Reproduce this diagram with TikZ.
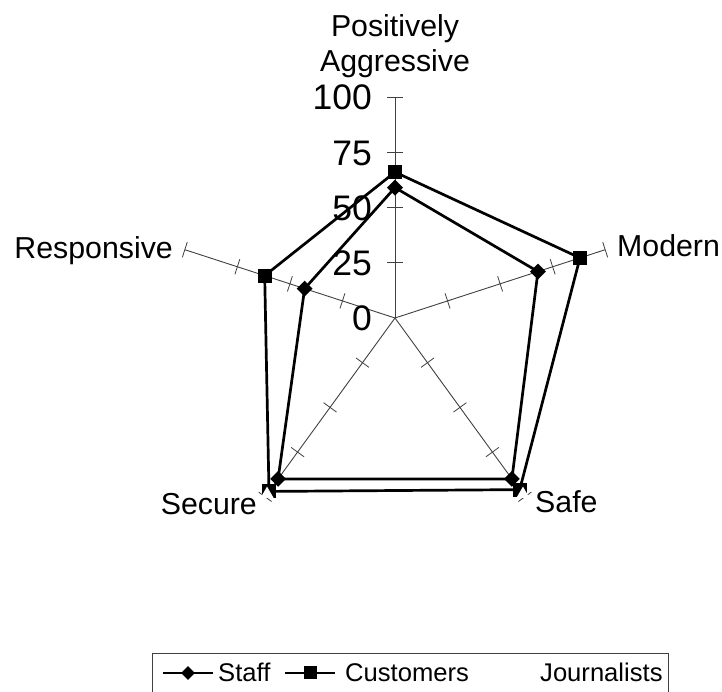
\documentclass[tikz,border=0pt]{standalone}
\usepackage{fontspec}
\setmainfont{Liberation Sans}
\usetikzlibrary{shapes.geometric,calc}
\begin{document}
\begin{tikzpicture}[x=1pt,y=1pt,
 axisline/.style={line width=0.9pt,black!75},
 tickmark/.style={line width=0.8pt,black!75},
 series/.style={line width=2.7pt,black,line join=miter},
 staffmark/.style={diamond,fill=black,inner sep=0pt,minimum size=16pt},
 custmark/.style={rectangle,fill=black,inner sep=0pt,minimum size=14pt},
 journmark/.style={regular polygon,regular polygon sides=3,fill=white,inner sep=0pt,minimum size=15pt},
 axlabel/.style={font=\fontsize{30.3}{35}\selectfont,inner sep=0pt},
 numlabel/.style={font=\fontsize{35.5}{40}\selectfont,inner sep=0pt,anchor=base east},
 legtext/.style={font=\fontsize{25.6}{30}\selectfont,inner sep=0pt,anchor=base west},
 legline/.style={line width=1.8pt,black}]
\useasboundingbox (0,0) rectangle (722,692);
\def\R{2.21}
\coordinate (c) at (395,374);
% axes and ticks
\foreach \n/\a in {pa/90,mo/18,sa/-54,se/-126,re/162}{
  \coordinate (\n) at ($(c)+(\a:221)$);
  \draw[axisline] (c) -- (\n);
  \foreach \k in {1,2,3,4}{
    \draw[tickmark] ($(c)+(\a:{\k*55.25})+({\a+90}:8)$) -- ($(c)+(\a:{\k*55.25})+({\a-90}:8)$);
  }
}
% Customers
\coordinate (k1) at ($(c)+(90:{66*\R})$);
\coordinate (k2) at ($(c)+(18:{88*\R})$);
\coordinate (k3) at ($(c)+(-54:{96*\R})$);
\coordinate (k4) at ($(c)+(-126:{97*\R})$);
\coordinate (k5) at ($(c)+(162:{62*\R})$);
\draw[series] (k1) -- (k2) -- (k3) -- (k4) -- (k5) -- cycle;
% Staff
\coordinate (s1) at ($(c)+(90:{59*\R})$);
\coordinate (s2) at ($(c)+(18:{68*\R})$);
\coordinate (s3) at ($(c)+(-54:{90*\R})$);
\coordinate (s4) at ($(c)+(-126:{90*\R})$);
\coordinate (s5) at ($(c)+(162:{43*\R})$);
\draw[series] (s1) -- (s2) -- (s3) -- (s4) -- (s5) -- cycle;
% markers
\foreach \p in {k1,k2,k3,k4,k5}{ \node[custmark] (m\p) at (\p) {}; }
\foreach \p in {s1,s2,s3,s4,s5}{ \node[staffmark] (m\p) at (\p) {}; }
% Journalists
\node[journmark] (j3) at ($(c)+(-54:{98.5*\R})$) {};
\node[journmark] (j4) at ($(c)+(-126:{98.5*\R})$) {};
% scale numbers
\node[numlabel] (n0) at (372,361) {0};
\node[numlabel] (n25) at (372,416.25) {25};
\node[numlabel] (n50) at (372,471.5) {50};
\node[numlabel] (n75) at (372,526.75) {75};
\node[numlabel] (n100) at (372,582) {100};
% axis labels
\node[axlabel,align=center,anchor=north] (lpa) at (395,677.5) {Positively\\Aggressive};
\node[axlabel,anchor=base west] (lmo) at (617,435) {Modern};
\node[axlabel,anchor=base east] (lre) at (173,433) {Responsive};
\node[axlabel,anchor=base east] (lse) at (257,177) {Secure};
\node[axlabel,anchor=base west] (lsa) at (535,179) {Safe};
% legend
\node[draw=black!75,line width=0.8pt,inner sep=0pt,minimum width=516pt,minimum height=60pt,anchor=north west] (legend) at (152,39) {};
\coordinate (la1) at (163,19); \coordinate (la2) at (213,19);
\draw[legline] (la1) -- (la2);
\node[staffmark,minimum size=14pt] (lm1) at (188,19) {};
\node[legtext] (lt1) at (218,10) {Staff};
\coordinate (lb1) at (285,19); \coordinate (lb2) at (335,19);
\draw[legline] (lb1) -- (lb2);
\node[custmark,minimum size=13pt] (lm2) at (310,19) {};
\node[legtext] (lt2) at (345,10) {Customers};
\node[legtext] (lt3) at (540,10) {Journalists};
\end{tikzpicture}
\end{document}
